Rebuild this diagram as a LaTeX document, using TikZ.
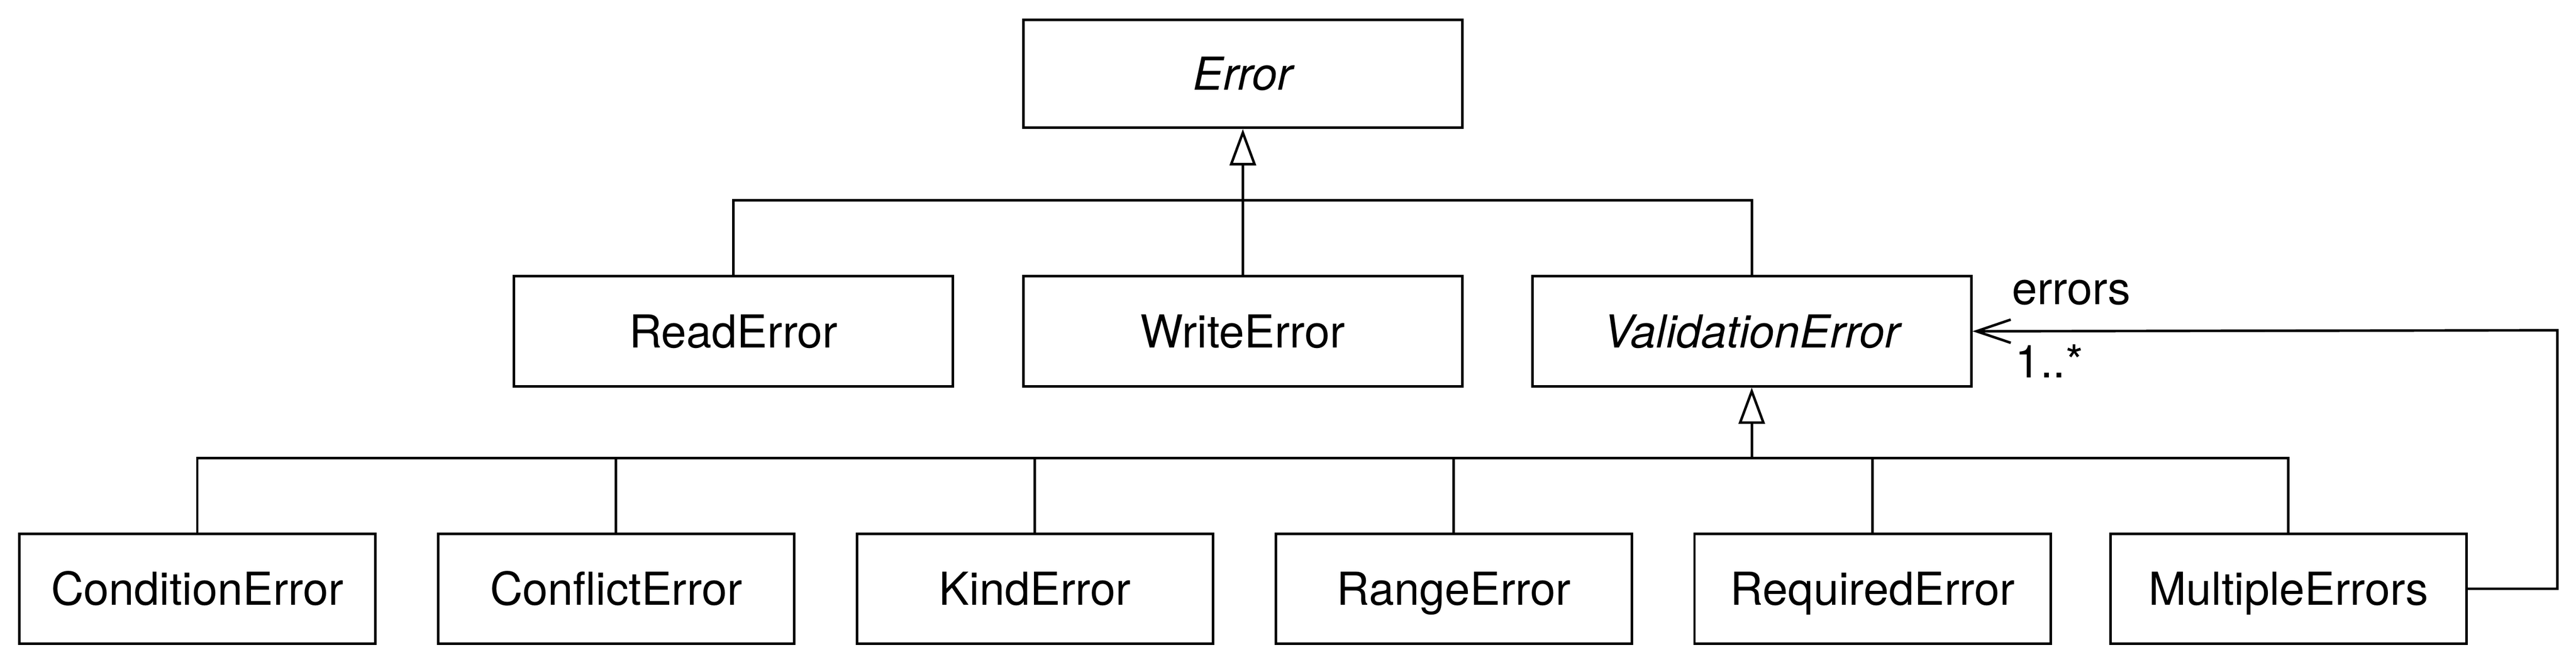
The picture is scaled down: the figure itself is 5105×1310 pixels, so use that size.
\documentclass[tikz,border=0pt]{standalone}
\usepackage{fontspec}
\setmainfont{TeX Gyre Heros}
\usetikzlibrary{arrows.meta}
\begin{document}
\begin{tikzpicture}[x=0.1pt,y=-0.1pt, line width=0.5pt,
  cls/.style={draw, inner sep=0pt, text height=6.5pt, text depth=0pt,
    font=\fontsize{9}{10.8}\selectfont, minimum height=21.8pt},
  wide/.style={cls, minimum width=87pt},
  narrow/.style={cls, minimum width=70.6pt},
  inh/.style={-{Triangle[open,length=7.2pt,width=5.2pt]}},
  assoc/.style={-{Straight Barb[length=6.8pt,width=4.6pt]}},
  lbl/.style={inner sep=0pt, anchor=base west, font=\fontsize{9}{10.8}\selectfont}]
\useasboundingbox (0,0) rectangle (5105,1310);

\node[wide, minimum height=21.4pt] (Error) at (2463,146) {\itshape Error};

\node[wide] (ReadError) at (1453.5,656) {ReadError};
\node[wide] (WriteError) at (2463,656) {WriteError};
\node[wide] (ValidationError) at (3471.5,656) {\itshape ValidationError};

\node[narrow] (ConditionError) at (391,1166) {ConditionError};
\node[narrow] (ConflictError) at (1221,1166) {ConflictError};
\node[narrow] (KindError) at (2051,1166) {KindError};
\node[narrow] (RangeError) at (2881,1166) {RangeError};
\node[narrow] (RequiredError) at (3711,1166) {RequiredError};
\node[narrow] (MultipleErrors) at (4535,1166) {MultipleErrors};

\coordinate (b1) at (2463,397);
\coordinate (b2) at (3471.5,907);
\coordinate (r1) at (5068,1166);
\coordinate (r2) at (5068,654);

% top generalization
\draw (ReadError.north) |- (ValidationError.north |- b1) -- (ValidationError.north);
\draw[inh] (WriteError.north) -- (Error.south);

% bottom generalization
\draw (ConditionError.north) |- (MultipleErrors.north |- b2) -- (MultipleErrors.north);
\draw (ConflictError.north) -- (ConflictError.north |- b2);
\draw (KindError.north) -- (KindError.north |- b2);
\draw (RangeError.north) -- (RangeError.north |- b2);
\draw (RequiredError.north) -- (RequiredError.north |- b2);
\draw[inh] (b2) -- (ValidationError.south);

% association
\draw[assoc] (MultipleErrors.east) -- (r1) -- (r2) -- (ValidationError.east);
\node[lbl] (rolename) at (3985,603) {errors};
\node[lbl] (multiplicity) at (3991,748) {1..*};
\end{tikzpicture}
\end{document}
